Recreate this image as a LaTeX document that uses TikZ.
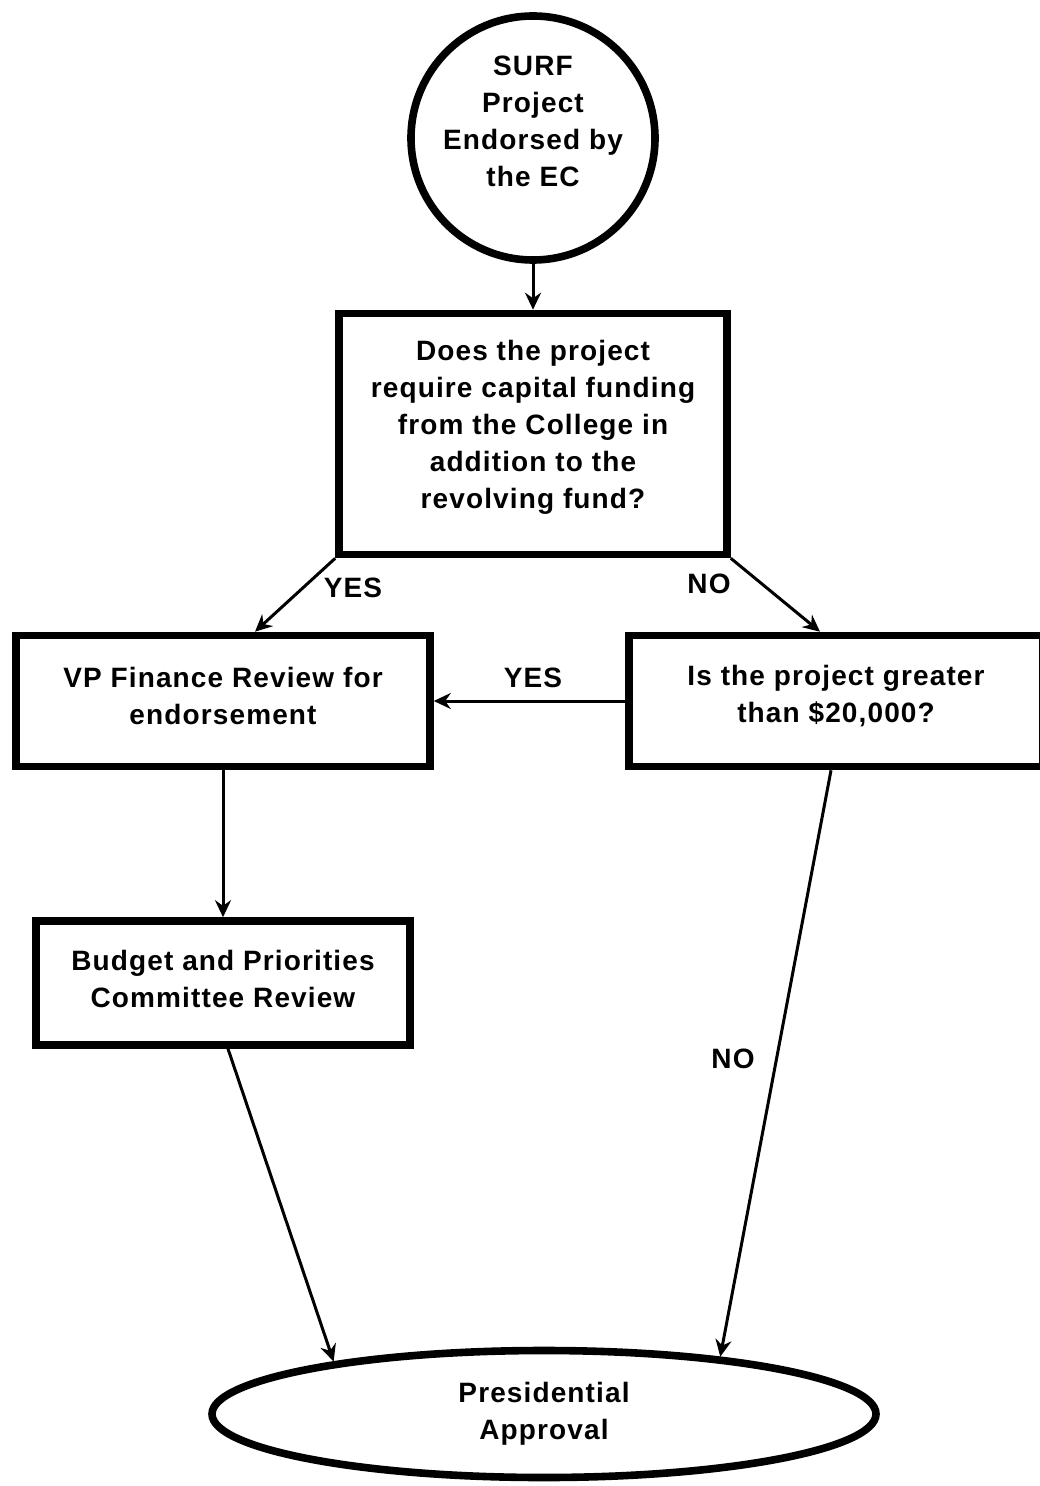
\documentclass[tikz,border=0pt]{standalone}
\usepackage{fontspec}
\newfontfamily\chartfont{Liberation Sans}[LetterSpace=4]
\usetikzlibrary{arrows.meta,shapes.geometric}
\begin{document}
\begin{tikzpicture}[x=0.5pt,y=-0.5pt]

\tikzstyle{chart} = [font=\chartfont\bfseries\fontsize{14}{18.5}\selectfont,align=center,inner sep=0pt];
\tikzstyle{startcirc} = [circle,draw,line width=3.8pt,minimum size=122pt];
\tikzstyle{askbox} = [chart,rectangle,draw,line width=3.8pt];
\tikzstyle{endoval} = [chart,ellipse,draw,line width=3.8pt,minimum width=332pt,minimum height=63.5pt];
\tikzstyle{flowarrow} = [-{Stealth[length=8.5pt,width=8pt,inset=2.8pt]},line width=1.5pt];
\tikzstyle{answer} = [chart];

\useasboundingbox (0,0) rectangle (1039,1486);

\node[startcirc] (surf) at (533,138) {};
\node[chart] (surftext) at (533,121) {SURF\\Project\\Endorsed by\\the EC};
\node[askbox,minimum width=194pt,minimum height=120.5pt] (capital) at (533,434) {};
\node[chart] (capitaltext) at (533,427)
  {Does the project\\require capital funding\\from the College in\\addition to the\\revolving fund?};
\node[askbox,minimum width=207pt,minimum height=65.5pt] (vpfin) at (223,701) {};
\node[chart] at (223,696) {VP Finance Review for\\endorsement};
\node[askbox,minimum width=207pt,minimum height=65.5pt] (greater) at (836,701) {};
\node[chart] at (836,696) {Is the project greater\\than \$20,000?};
\node[askbox,minimum width=187pt,minimum height=62pt] (budget) at (223,983) {};
\node[chart] at (223,979) {Budget and Priorities\\Committee Review};
\node[endoval] (pres) at (544,1414) {Presidential\\Approval};

\node[answer] (yes1) at (353,588) {YES};
\node[answer] (no1) at (709,584) {NO};
\node[answer] (yes2) at (533,678) {YES};
\node[answer] (no2) at (733,1059) {NO};

\draw[flowarrow] (surf) -- (capital);
\draw[flowarrow] (capital.south west) -- ([xshift=16pt]vpfin.north);
\draw[flowarrow] (capital.south east) -- ([xshift=-8pt]greater.north);
\draw[flowarrow] (greater.west) -- (vpfin.east);
\draw[flowarrow] (vpfin) -- (budget);
\draw[flowarrow] ([xshift=2.5pt]budget.south) -- (pres.166);
\draw[flowarrow] ([xshift=-2.5pt]greater.south) -- (pres.18.5);
\end{tikzpicture}
\end{document}
